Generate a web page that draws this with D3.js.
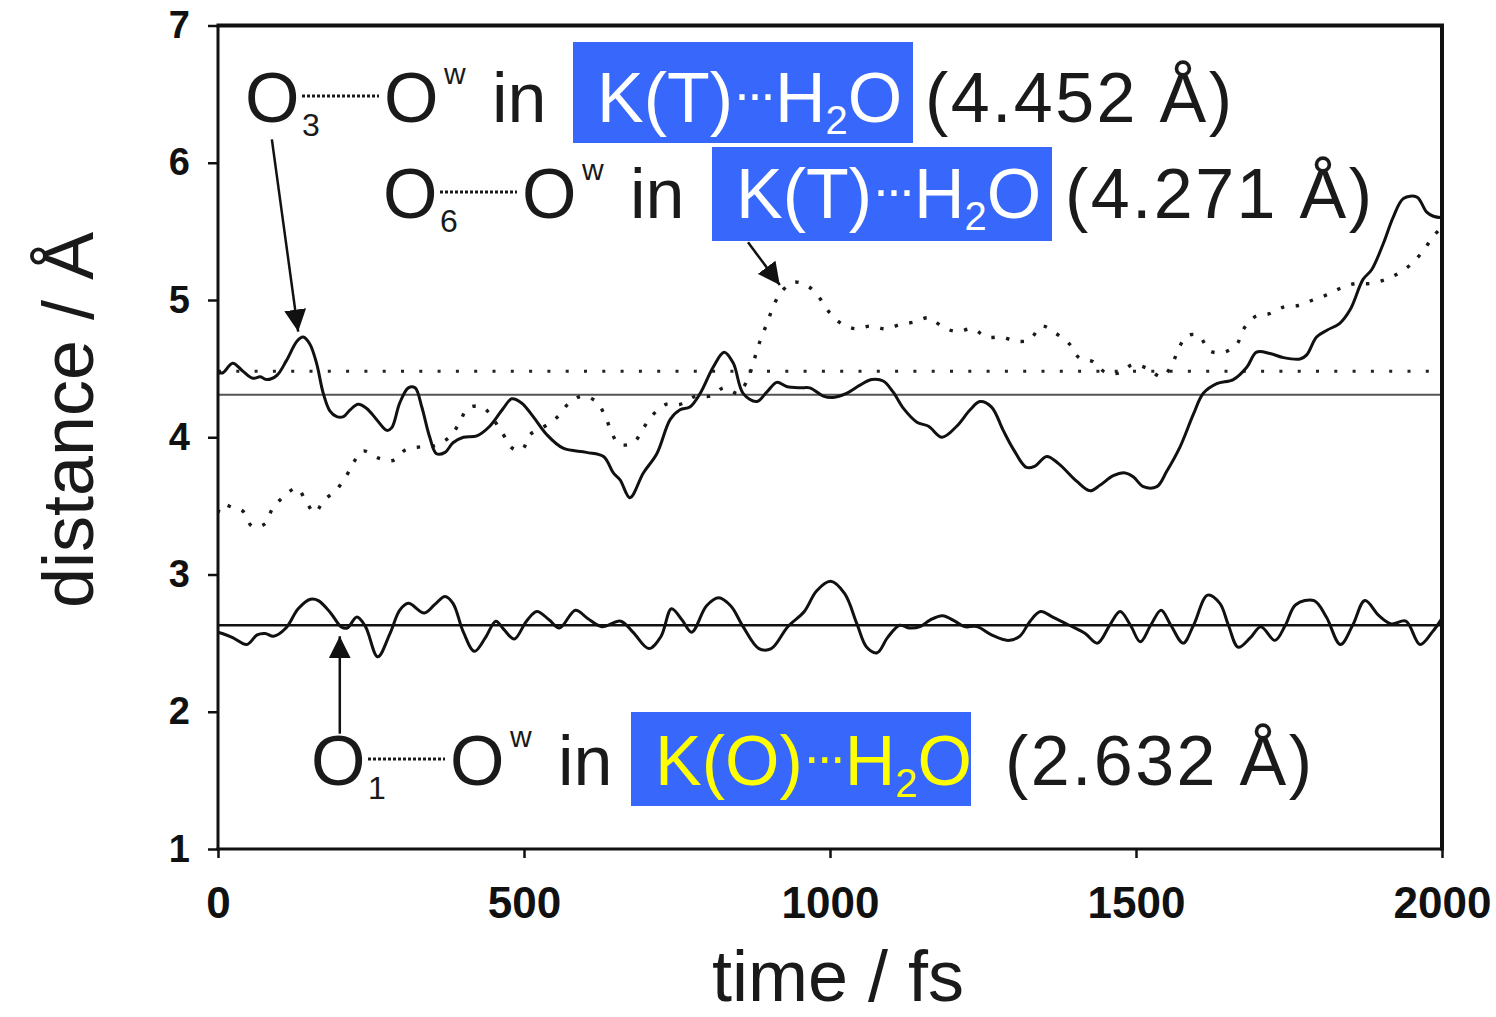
<!DOCTYPE html>
<html><head><meta charset="utf-8">
<script src="https://cdn.jsdelivr.net/npm/d3@7"></script>
<style>
html,body{margin:0;padding:0;background:#fff;}
svg{display:block;}
text{font-family:"Liberation Sans",Arial,Helvetica,sans-serif;}
</style></head>
<body><svg id="chart" width="1496" height="1017"></svg>
<script>
// ---------- data (time in fs, distance in Å) ----------
const xTicks = [0, 500, 1000, 1500, 2000];
const yTicks = [1, 2, 3, 4, 5, 6, 7];

// O3...Ow in K(T)...H2O  (solid upper curve)
const o3Series = [[0,4.47],[8,4.47],[24,4.54],[41,4.48],[57,4.43],[69,4.44],[80,4.42],[96,4.45],[112,4.56],[129,4.70],[139,4.73],[150,4.68],[161,4.54],[172,4.32],[183,4.19],[194,4.15],[205,4.15],[216,4.20],[229,4.24],[243,4.21],[259,4.13],[276,4.05],[284,4.07],[297,4.25],[311,4.36],[322,4.36],[333,4.22],[346,4.00],[357,3.88],[371,3.89],[384,3.96],[401,4.00],[423,4.01],[444,4.08],[466,4.21],[480,4.28],[496,4.25],[515,4.15],[537,4.02],[564,3.92],[602,3.89],[630,3.86],[646,3.74],[657,3.69],[673,3.56],[695,3.74],[717,3.88],[739,4.13],[755,4.20],[771,4.22],[788,4.32],[809,4.51],[827,4.62],[842,4.54],[858,4.32],[880,4.26],[897,4.33],[913,4.40],[929,4.37],[951,4.36],[967,4.36],[989,4.30],[1005,4.29],[1027,4.32],[1049,4.38],[1068,4.42],[1087,4.41],[1103,4.33],[1120,4.21],[1142,4.11],[1161,4.08],[1183,4.00],[1207,4.08],[1229,4.20],[1245,4.26],[1264,4.22],[1283,4.05],[1300,3.91],[1321,3.78],[1335,3.79],[1354,3.86],[1373,3.81],[1403,3.68],[1425,3.61],[1441,3.65],[1463,3.72],[1482,3.74],[1496,3.71],[1512,3.64],[1534,3.64],[1550,3.75],[1572,3.93],[1594,4.17],[1610,4.32],[1632,4.39],[1659,4.42],[1681,4.51],[1697,4.62],[1719,4.61],[1741,4.58],[1768,4.57],[1779,4.60],[1795,4.73],[1812,4.78],[1833,4.83],[1850,4.93],[1871,5.15],[1885,5.22],[1904,5.41],[1920,5.60],[1937,5.74],[1959,5.75],[1975,5.64],[1986,5.61],[2000,5.60]];

// O6...Ow in K(T)...H2O  (dotted curve)
const o6Series = [[0,3.45],[7,3.51],[23,3.49],[41,3.46],[56,3.35],[77,3.37],[89,3.48],[108,3.57],[129,3.63],[143,3.54],[158,3.45],[173,3.54],[194,3.62],[210,3.72],[222,3.82],[237,3.90],[261,3.85],[285,3.83],[307,3.91],[331,3.93],[355,3.94],[378,4.00],[394,4.10],[408,4.21],[432,4.22],[466,4.02],[481,3.92],[497,3.91],[510,4.02],[534,4.08],[555,4.15],[574,4.25],[596,4.30],[618,4.26],[632,4.16],[642,4.05],[655,3.95],[679,3.96],[694,4.06],[712,4.17],[732,4.24],[755,4.24],[781,4.30],[804,4.30],[827,4.36],[850,4.32],[866,4.43],[874,4.53],[881,4.64],[889,4.74],[898,4.84],[907,4.95],[919,5.05],[940,5.13],[964,5.10],[982,5.02],[999,4.91],[1018,4.83],[1042,4.79],[1066,4.81],[1091,4.79],[1114,4.82],[1138,4.84],[1162,4.87],[1185,4.80],[1208,4.77],[1233,4.79],[1256,4.73],[1281,4.73],[1304,4.70],[1326,4.71],[1346,4.81],[1368,4.76],[1391,4.68],[1407,4.58],[1430,4.55],[1451,4.47],[1474,4.47],[1495,4.53],[1519,4.50],[1542,4.44],[1559,4.53],[1569,4.64],[1584,4.74],[1603,4.74],[1620,4.63],[1644,4.62],[1665,4.68],[1676,4.79],[1695,4.88],[1718,4.90],[1742,4.95],[1765,4.96],[1789,5.00],[1813,5.04],[1836,5.09],[1859,5.12],[1883,5.12],[1908,5.15],[1931,5.20],[1952,5.27],[1971,5.37],[1987,5.47],[2000,5.53]];

// O1...Ow in K(O)...H2O  (solid lower curve)
const o1Series = [[0,2.58],[7,2.57],[24,2.54],[47,2.49],[64,2.56],[77,2.57],[91,2.55],[111,2.61],[131,2.75],[151,2.82],[164,2.81],[184,2.72],[201,2.62],[211,2.61],[227,2.69],[241,2.62],[261,2.40],[281,2.57],[297,2.74],[311,2.79],[337,2.72],[354,2.78],[371,2.84],[384,2.79],[401,2.58],[419,2.44],[437,2.54],[454,2.66],[467,2.60],[484,2.53],[504,2.66],[521,2.73],[541,2.67],[558,2.61],[584,2.74],[604,2.68],[627,2.62],[658,2.66],[678,2.58],[704,2.46],[724,2.55],[741,2.75],[758,2.67],[774,2.58],[798,2.77],[818,2.83],[838,2.77],[858,2.62],[884,2.46],[904,2.46],[931,2.62],[958,2.73],[978,2.88],[1001,2.95],[1024,2.86],[1044,2.64],[1060,2.47],[1077,2.43],[1094,2.54],[1114,2.63],[1130,2.61],[1147,2.62],[1164,2.67],[1184,2.70],[1204,2.66],[1220,2.62],[1240,2.62],[1264,2.56],[1291,2.52],[1310,2.55],[1327,2.66],[1344,2.73],[1364,2.69],[1391,2.63],[1417,2.57],[1437,2.50],[1457,2.63],[1474,2.73],[1491,2.63],[1507,2.51],[1524,2.63],[1541,2.74],[1557,2.63],[1577,2.50],[1594,2.63],[1617,2.85],[1637,2.79],[1651,2.63],[1667,2.47],[1687,2.54],[1704,2.62],[1727,2.52],[1744,2.63],[1761,2.78],[1791,2.81],[1811,2.69],[1834,2.49],[1854,2.63],[1874,2.81],[1897,2.70],[1917,2.64],[1941,2.66],[1964,2.49],[1984,2.58],[2000,2.68]];

// horizontal reference levels as drawn
const refDotted = 4.48;
const refGray = 4.31;
const refBlack = 2.63;

// annotation texts
const labelValues = ["(4.452 Å)", "(4.271 Å)", "(2.632 Å)"];
const labelSubs = ["3", "6", "1"];
const labelComplex = ["K(T)", "K(T)", "K(O)"];

// ---------- drawing ----------
const svg = d3.select("#chart");
svg.append("rect").attr("width",1496).attr("height",1017).attr("fill","#fff");

const x = d3.scaleLinear().domain([0,2000]).range([218,1442]);
const y = d3.scaleLinear().domain([1,7]).range([849,25.5]);

svg.append("defs").append("clipPath").attr("id","plot")
  .append("rect").attr("x",x(0)).attr("y",y(7)).attr("width",x(2000)-x(0)).attr("height",y(1)-y(7));

const plot = svg.append("g").attr("clip-path","url(#plot)");

// reference lines
plot.append("line").attr("x1",x(0)).attr("x2",x(2000)).attr("y1",y(refDotted)).attr("y2",y(refDotted))
  .attr("stroke","#222").attr("stroke-width",3).attr("stroke-dasharray","3,15.3");
plot.append("line").attr("x1",x(0)).attr("x2",x(2000)).attr("y1",y(refGray)).attr("y2",y(refGray))
  .attr("stroke","#555").attr("stroke-width",2);
plot.append("line").attr("x1",x(0)).attr("x2",x(2000)).attr("y1",y(refBlack)).attr("y2",y(refBlack))
  .attr("stroke","#111").attr("stroke-width",2.6);

const line = d3.line().x(d=>x(d[0])).y(d=>y(d[1])).curve(d3.curveCatmullRom.alpha(0.5));

plot.append("path").datum(o6Series).attr("d",line).attr("fill","none")
  .attr("stroke","#1a1a1a").attr("stroke-width",3.4).attr("stroke-dasharray","3.4,11.5");
plot.append("path").datum(o3Series).attr("d",line).attr("fill","none")
  .attr("stroke","#111").attr("stroke-width",3).attr("stroke-linejoin","round");
plot.append("path").datum(o1Series).attr("d",line).attr("fill","none")
  .attr("stroke","#111").attr("stroke-width",3).attr("stroke-linejoin","round");

// axes
const xAxis = svg.append("g").attr("transform",`translate(0,${y(1)})`)
  .call(d3.axisBottom(x).tickValues(xTicks).tickSize(9).tickPadding(29).tickFormat(d3.format("d")));
xAxis.select(".domain").remove();
xAxis.selectAll("line").attr("stroke","#111").attr("stroke-width",2.5);
xAxis.selectAll("text").attr("font-size",44).attr("font-weight","bold").attr("fill","#111")
  .style("font-family","'Liberation Sans',Arial,sans-serif");

const yAxis = svg.append("g").attr("transform",`translate(${x(0)},0)`)
  .call(d3.axisLeft(y).tickValues(yTicks).tickSize(10).tickPadding(18).tickFormat(d3.format("d")));
yAxis.select(".domain").remove();
yAxis.selectAll("line").attr("stroke","#111").attr("stroke-width",2.5);
yAxis.selectAll("text").attr("font-size",38).attr("font-weight","bold").attr("fill","#111")
  .style("font-family","'Liberation Sans',Arial,sans-serif");

// frame
svg.append("line").attr("x1",x(0)).attr("x2",x(0)).attr("y1",y(7)).attr("y2",y(1)).attr("stroke","#111").attr("stroke-width",3);
svg.append("line").attr("x1",x(0)-1.5).attr("x2",x(2000)).attr("y1",y(1)).attr("y2",y(1)).attr("stroke","#111").attr("stroke-width",3);
svg.append("line").attr("x1",x(0)-1.5).attr("x2",x(2000)+2).attr("y1",y(7)).attr("y2",y(7)).attr("stroke","#111").attr("stroke-width",4);
svg.append("line").attr("x1",x(2000)).attr("x2",x(2000)).attr("y1",y(7)).attr("y2",y(1)+1.5).attr("stroke","#111").attr("stroke-width",4);

// axis titles
svg.append("text").attr("x",838).attr("y",1001).attr("text-anchor","middle")
  .attr("font-size",72).attr("fill","#1a1a1a").text("time / fs");
svg.append("text").attr("transform","translate(93,420) rotate(-90)").attr("text-anchor","middle")
  .attr("font-size",72).attr("fill","#1a1a1a").text("distance / Å");

// arrow marker
svg.select("defs").append("marker").attr("id","ah").attr("markerUnits","userSpaceOnUse")
  .attr("viewBox","0 0 20 20").attr("refX",20).attr("refY",10)
  .attr("markerWidth",22).attr("markerHeight",22).attr("orient","auto")
  .append("path").attr("d","M0,0 L20,10 L0,20 Z").attr("fill","#111");

function arrow(t0,v0,t1,v1){
  svg.append("line").attr("x1",x(t0)).attr("y1",y(v0)).attr("x2",x(t1)).attr("y2",y(v1))
    .attr("stroke","#111").attr("stroke-width",2.5).attr("marker-end","url(#ah)");
}
arrow(88,6.17,131,4.77);
arrow(866,5.42,918,5.11);
arrow(199,1.84,199,2.55);

// annotation labels
const BLUE = "#3767fb";
function label(o){
  const g = svg.append("g");
  g.append("text").attr("x",o.x0).attr("y",o.base).attr("font-size",70).attr("fill","#1a1a1a").text("O");
  g.append("text").attr("x",o.x0+57).attr("y",o.base+14).attr("font-size",32).attr("fill","#1a1a1a").text(o.sub);
  g.append("line").attr("x1",o.x0+57).attr("x2",o.x0+134).attr("y1",o.base-26).attr("y2",o.base-26)
    .attr("stroke","#1a1a1a").attr("stroke-width",3).attr("stroke-dasharray","3,2");
  g.append("text").attr("x",o.x0+139).attr("y",o.base).attr("font-size",70).attr("fill","#1a1a1a").text("O");
  g.append("text").attr("x",o.x0+199).attr("y",o.base-38).attr("font-size",30).attr("fill","#1a1a1a").text("w");
  g.append("text").attr("x",o.x0+247).attr("y",o.base).attr("font-size",70).attr("fill","#1a1a1a").text("in");
  g.append("rect").attr("x",o.bx).attr("y",o.by).attr("width",340).attr("height",o.bh).attr("fill",BLUE);
  const t = g.append("text").attr("x",o.bx+24).attr("y",o.base).attr("font-size",70).attr("fill",o.fg);
  t.append("tspan").text(o.cx);
  t.append("tspan").attr("font-size",54).attr("dy",-10).attr("letter-spacing",-5).text("···");
  t.append("tspan").attr("font-size",70).attr("dy",10).attr("dx",3).text("H");
  t.append("tspan").attr("font-size",40).attr("dy",12).text("2");
  t.append("tspan").attr("font-size",70).attr("dy",-12).text("O");
  g.append("text").attr("x",o.vx).attr("y",o.base).attr("font-size",70).attr("fill","#1a1a1a")
    .attr("textLength",307).attr("lengthAdjust","spacing").text(o.val);
}
label({x0:245, base:122, sub:labelSubs[0], bx:573, by:42, bh:101, fg:"#ffffff", cx:labelComplex[0], vx:925, val:labelValues[0]});
label({x0:383, base:218, sub:labelSubs[1], bx:712, by:147, bh:94, fg:"#ffffff", cx:labelComplex[1], vx:1065, val:labelValues[1]});
label({x0:311, base:785, sub:labelSubs[2], bx:631, by:712, bh:94, fg:"#ffff00", cx:labelComplex[2], vx:1005, val:labelValues[2]});
</script></body></html>
